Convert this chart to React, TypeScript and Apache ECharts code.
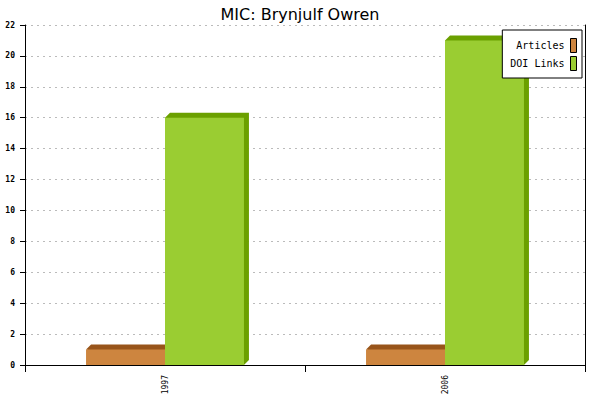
import React, { useEffect, useRef } from "react";
import * as echarts from "echarts";

const categories = ["1997", "2006"];
const articles = [1, 1];
const doiLinks = [16, 21];
const seriesNames = ["Articles", "DOI Links"];
const yTicksMax = 22;

const MONO = "'DejaVu Sans Mono', monospace";

function make3D(side: number, front: string, dark: string) {
  return (params: any, api: any) => {
    const cat = api.value(0);
    const v = api.value(1);
    const top = api.coord([cat, v]);
    const base = api.coord([cat, 0]);
    const band = api.size([1, 0])[0];
    const w = band * 0.282;
    const d = 5;
    const x0 = side < 0 ? top[0] - w : top[0];
    const x1 = x0 + w;
    const yt = top[1];
    const yb = base[1];
    return {
      type: "group",
      children: [
        {
          type: "polygon",
          shape: { points: [[x0, yt], [x0 + d, yt - d], [x1 + d, yt - d], [x1 + d, yb - d], [x1, yb]] },
          style: { fill: dark },
        },
        {
          type: "rect",
          shape: { x: x0, y: yt, width: w, height: yb - yt },
          style: { fill: front },
        },
      ],
    };
  };
}

export default function App() {
  const ref = useRef<HTMLDivElement>(null);
  useEffect(() => {
    const chart = echarts.init(ref.current!, null, { renderer: "svg" });
    chart.setOption({
      animation: false,
      backgroundColor: "#fff",
      title: {
        text: "MIC: Brynjulf Owren",
        left: "center",
        top: 1,
        textStyle: { fontFamily: "'DejaVu Sans', sans-serif", fontSize: 16, fontWeight: "normal", color: "#000" },
      },
      legend: {
        orient: "vertical",
        right: 18,
        top: 30,
        align: "right",
        padding: [8, 5, 7, 8],
        itemGap: 3,
        itemWidth: 6,
        itemHeight: 14,
        backgroundColor: "#fff",
        borderColor: "#000",
        borderWidth: 1,
        borderRadius: 0,
        icon: "rect",
        itemStyle: { borderColor: "#000", borderWidth: 1 },
        textStyle: { fontFamily: MONO, fontSize: 10, color: "#000", padding: [0, 1, 0, 0] },
        data: seriesNames,
      },
      grid: { left: 25, right: 15, top: 25, bottom: 35 },
      xAxis: {
        type: "category",
        data: categories,
        axisLine: { lineStyle: { color: "#000", width: 1 } },
        axisTick: { show: true, length: 7, lineStyle: { color: "#000" } },
        axisLabel: { rotate: 90, fontFamily: MONO, fontSize: 8, color: "#000", margin: 10 },
        splitLine: { show: false },
      },
      yAxis: [
        {
          type: "value",
          min: 0,
          max: yTicksMax,
          interval: 2,
          axisLine: { show: true, lineStyle: { color: "#000", width: 1 } },
          axisTick: { show: true, length: 5, lineStyle: { color: "#000" } },
          axisLabel: { fontFamily: MONO, fontSize: 8, fontWeight: "bold", color: "#000", margin: 10 },
          splitLine: { show: true, lineStyle: { color: "#bbb", type: [2, 4], width: 1 } },
        },
        {
          type: "value",
          position: "right",
          min: 0,
          max: yTicksMax,
          interval: 2,
          axisLine: { show: true, lineStyle: { color: "#000", width: 1 } },
          axisTick: { show: false },
          axisLabel: { show: false },
          splitLine: { show: false },
        },
      ],
      series: [
        {
          name: seriesNames[0],
          type: "custom",
          itemStyle: { color: "#cd853f" },
          encode: { x: 0, y: 1 },
          data: articles.map((v, i) => [i, v]),
          renderItem: make3D(-1, "#cd853f", "#98541a"),
          clip: false,
        },
        {
          name: seriesNames[1],
          type: "custom",
          itemStyle: { color: "#9acd32" },
          encode: { x: 0, y: 1 },
          data: doiLinks.map((v, i) => [i, v]),
          renderItem: make3D(1, "#9acd32", "#6ba000"),
          clip: false,
        },
      ],
    });
    return () => chart.dispose();
  }, []);
  return <div ref={ref} style={{ position: "absolute", left: 0, top: 0, width: 600, height: 400 }} />;
}
